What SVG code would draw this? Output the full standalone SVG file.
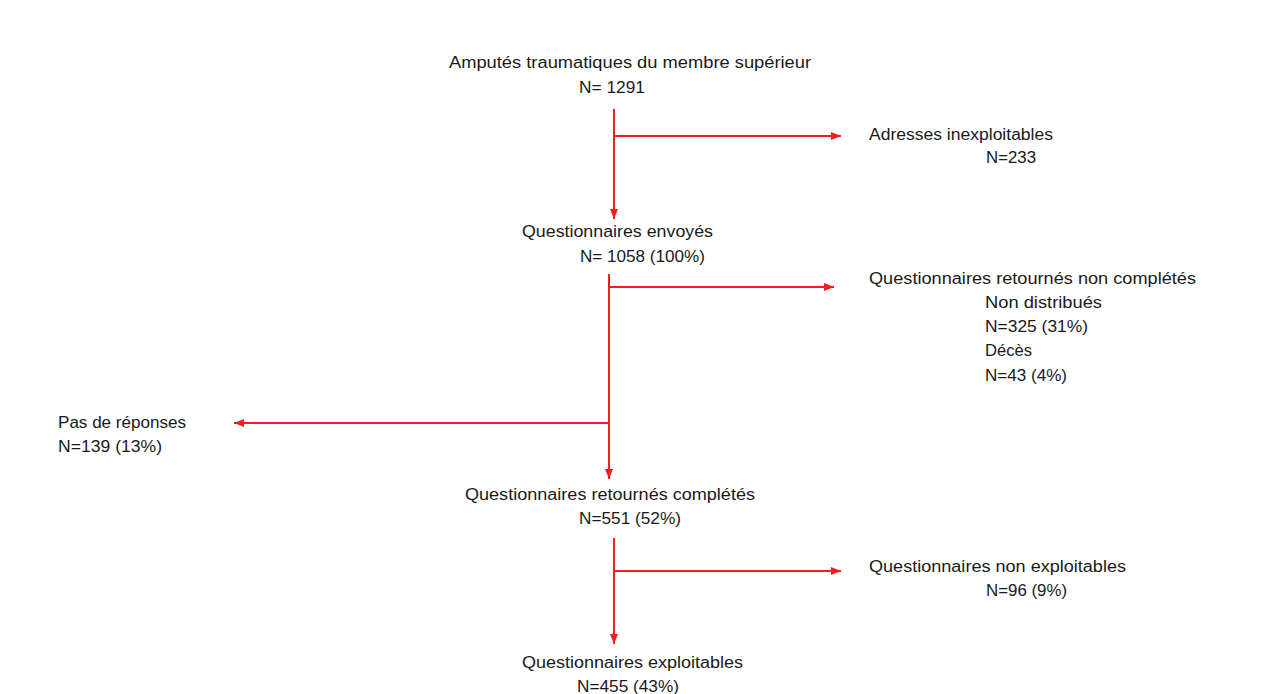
<svg xmlns="http://www.w3.org/2000/svg" width="1285" height="694" viewBox="0 0 1285 694">
<style>
text{font-family:"Liberation Sans","Open Sans",sans-serif;font-size:16px;fill:#1a1a1a}
.c line{stroke:#f21d1d;stroke-width:2;fill:none}
.c line.a{marker-end:url(#ah)}
</style>
<defs>
<marker id="ah" viewBox="0 0 10 8" refX="10" refY="4" markerWidth="10" markerHeight="8" markerUnits="userSpaceOnUse" orient="auto">
<path d="M0,0L10,4L0,8z" fill="#f21d1d"/>
</marker>
</defs>
<rect width="1285" height="694" fill="#ffffff"/>
<g class="c" id="connectors">
<line x1="614" y1="109" x2="614" y2="219" class="a"/>
<line x1="613" y1="136" x2="841" y2="136" class="a"/>
<line x1="609" y1="274" x2="609" y2="479" class="a"/>
<line x1="608" y1="287" x2="834" y2="287" class="a"/>
<line x1="610" y1="423" x2="234" y2="423" class="a"/>
<line x1="614" y1="538" x2="614" y2="644" class="a"/>
<line x1="613" y1="571" x2="841" y2="571" class="a"/>
</g>
<g id="n1">
<text x="449" y="68" textLength="362" lengthAdjust="spacingAndGlyphs">Amputés traumatiques du membre supérieur</text>
<text x="579" y="93" textLength="66" lengthAdjust="spacingAndGlyphs">N= 1291</text>
</g>
<g id="n2">
<text x="869" y="140" textLength="184" lengthAdjust="spacingAndGlyphs">Adresses inexploitables</text>
<text x="986" y="163" textLength="50" lengthAdjust="spacingAndGlyphs">N=233</text>
</g>
<g id="n3">
<text x="522" y="237" textLength="191" lengthAdjust="spacingAndGlyphs">Questionnaires envoyés</text>
<text x="580" y="262" textLength="125" lengthAdjust="spacingAndGlyphs">N= 1058 (100%)</text>
</g>
<g id="n4">
<text x="869" y="284" textLength="327" lengthAdjust="spacingAndGlyphs">Questionnaires retournés non complétés</text>
<text x="985" y="308" textLength="117" lengthAdjust="spacingAndGlyphs">Non distribués</text>
<text x="985" y="332" textLength="103" lengthAdjust="spacingAndGlyphs">N=325 (31%)</text>
<text x="985" y="356" textLength="47" lengthAdjust="spacingAndGlyphs">Décès</text>
<text x="985" y="381" textLength="82" lengthAdjust="spacingAndGlyphs">N=43 (4%)</text>
</g>
<g id="n5">
<text x="58" y="428" textLength="128" lengthAdjust="spacingAndGlyphs">Pas de réponses</text>
<text x="58" y="452" textLength="104" lengthAdjust="spacingAndGlyphs">N=139 (13%)</text>
</g>
<g id="n6">
<text x="465" y="500" textLength="290" lengthAdjust="spacingAndGlyphs">Questionnaires retournés complétés</text>
<text x="579" y="524" textLength="102" lengthAdjust="spacingAndGlyphs">N=551 (52%)</text>
</g>
<g id="n7">
<text x="869" y="572" textLength="257" lengthAdjust="spacingAndGlyphs">Questionnaires non exploitables</text>
<text x="986" y="596" textLength="81" lengthAdjust="spacingAndGlyphs">N=96 (9%)</text>
</g>
<g id="n8">
<text x="522" y="668" textLength="221" lengthAdjust="spacingAndGlyphs">Questionnaires exploitables</text>
<text x="577" y="692" textLength="102" lengthAdjust="spacingAndGlyphs">N=455 (43%)</text>
</g>
</svg>
